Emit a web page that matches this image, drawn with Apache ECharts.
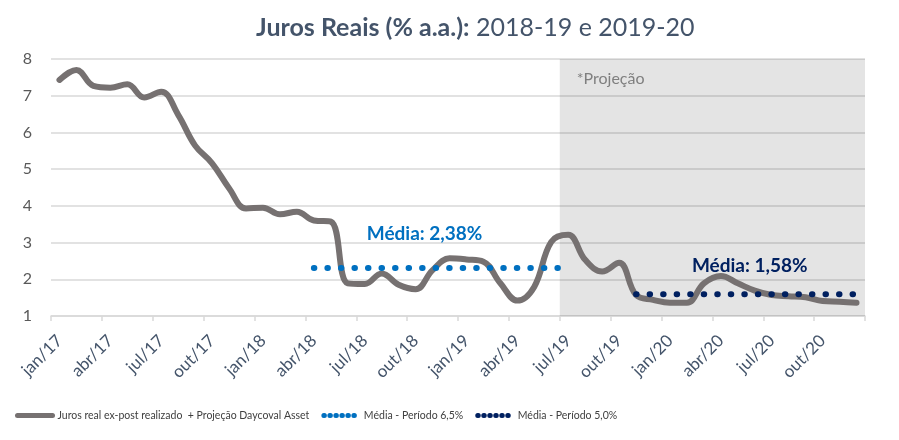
<!DOCTYPE html>
<html>
<head>
<meta charset="utf-8">
<script src="https://cdn.jsdelivr.net/npm/echarts@6/dist/echarts.min.js"></script>
<style>
html,body{margin:0;padding:0;background:#fff;}
#chart{width:899px;height:440px;}
</style>
</head>
<body>
<div id="chart"></div>
<script>
const categories = [
  'jan/17','fev/17','mar/17','abr/17','mai/17','jun/17','jul/17','ago/17','set/17','out/17','nov/17','dez/17',
  'jan/18','fev/18','mar/18','abr/18','mai/18','jun/18','jul/18','ago/18','set/18','out/18','nov/18','dez/18',
  'jan/19','fev/19','mar/19','abr/19','mai/19','jun/19','jul/19','ago/19','set/19','out/19','nov/19','dez/19',
  'jan/20','fev/20','mar/20','abr/20','mai/20','jun/20','jul/20','ago/20','set/20','out/20','nov/20','dez/20'
];
const jurosReais = [
  7.43, 7.70, 7.27, 7.22, 7.31, 6.95, 7.11, 6.48, 5.64, 5.16, 4.48, 3.93,
  3.95, 3.77, 3.84, 3.60, 3.57, 1.89, 1.87, 2.16, 1.85, 1.73, 2.25, 2.57,
  2.54, 2.48, 1.89, 1.42, 1.80, 3.02, 3.21, 2.53, 2.21, 2.45, 1.57, 1.44,
  1.36, 1.36, 1.89, 2.09, 1.89, 1.69, 1.57, 1.54, 1.51, 1.41, 1.39, 1.36
];
const media65 = [
  null, null, null, null, null, null, null, null, null, null, null, null,
  null, null, null, 2.31, 2.31, 2.31, 2.31, 2.31, 2.31, 2.31, 2.31, 2.31,
  2.31, 2.31, 2.31, 2.31, 2.31, 2.31, 2.31, null, null, null, null, null,
  null, null, null, null, null, null, null, null, null, null, null, null
];
const media50 = [
  null, null, null, null, null, null, null, null, null, null, null, null,
  null, null, null, null, null, null, null, null, null, null, null, null,
  null, null, null, null, null, null, null, null, null, null, 1.59, 1.59,
  1.59, 1.59, 1.59, 1.59, 1.59, 1.59, 1.59, 1.59, 1.59, 1.59, 1.59, 1.59
];
const yTicks = [1, 2, 3, 4, 5, 6, 7, 8];
const projStart = 30;   // jul/19 (category boundary)
const projEnd = 48.3;
const labelMedia65 = 'Média: 2,38%';
const labelMedia50 = 'Média: 1,58%';
const seriesNames = ['Juros real ex-post realizado  + Projeção Daycoval Asset', 'Média - Período 6,5%', 'Média - Período 5,0%'];

const chart = echarts.init(document.getElementById('chart'), null, {renderer: 'canvas'});
const dotDash = [0.5, 13.03];
chart.setOption({
  animation: false,
  backgroundColor: '#ffffff',
  title: {
    text: '{b|Juros Reais (% a.a.):}{r| 2018-19 e 2019-20}',
    left: 251, top: 10,
    textStyle: {
      rich: {
        b: {fontFamily: 'Lato', fontWeight: 'bold', fontSize: 25, color: '#44546A'},
        r: {fontFamily: 'Lato', fontWeight: 'normal', fontSize: 25, color: '#44546A'}
      }
    }
  },
  grid: {left: 51, right: 34, top: 59, bottom: 124, containLabel: false},
  legend: {
    bottom: 14, left: 10,
    itemWidth: 35, itemHeight: 8, itemGap: 12,
    data: [
      {name: seriesNames[0], itemStyle: {opacity: 0}, lineStyle: {width: 5, cap: 'round', type: 'solid'}},
      {name: seriesNames[1], itemStyle: {opacity: 0}, lineStyle: {width: 5, cap: 'round', type: [0.5, 5.5]}},
      {name: seriesNames[2], itemStyle: {opacity: 0}, lineStyle: {width: 5, cap: 'round', type: [0.5, 5.5]}}
    ],
    textStyle: {fontFamily: 'Lato', fontSize: 10.5, color: '#404040'}
  },
  xAxis: [{
    type: 'category',
    data: categories,
    boundaryGap: true,
    axisLine: {lineStyle: {color: '#d9d9d9', width: 1.5}},
    axisTick: {show: true, interval: 2, length: 5, lineStyle: {color: '#d9d9d9', width: 1.5}},
    axisLabel: {interval: 2, rotate: 45, margin: 22, fontFamily: 'Lato', fontSize: 17, color: '#44546A'},
    splitLine: {show: false}
  }, {
    type: 'value', min: 0, max: 48, show: false
  }],
  yAxis: {
    type: 'value', min: yTicks[0], max: yTicks[yTicks.length - 1], interval: 1,
    axisLine: {show: false}, axisTick: {show: false},
    axisLabel: {margin: 19, fontFamily: 'Lato', fontSize: 16, color: '#595959'},
    splitLine: {lineStyle: {color: '#d9d9d9', width: 1.5}}
  },
  series: [{
    name: 'proj', type: 'line', xAxisIndex: 1, data: [], silent: true,
    markArea: {
      silent: true,
      itemStyle: {color: 'rgba(0,0,0,0.105)'},
      label: {show: true, position: [17, 12], formatter: '*Projeção',
        fontFamily: 'Lato', fontSize: 16, color: '#7f7f7f'},
      data: [[{xAxis: projStart}, {xAxis: projEnd}]]
    }
  }, {
    name: seriesNames[0], type: 'line', data: jurosReais, smooth: 0.4,
    symbol: 'none', z: 3,
    lineStyle: {color: '#767171', width: 6, cap: 'round', join: 'round'},
    itemStyle: {color: '#767171'}
  }, {
    name: seriesNames[1], type: 'line', data: media65, symbol: 'none', z: 4,
    lineStyle: {color: '#0070C0', width: 6, type: dotDash, cap: 'round'},
    itemStyle: {color: '#0070C0'},
    markPoint: {
      symbol: 'circle', symbolSize: 0, silent: true,
      label: {show: true, position: 'top', distance: 25, offset: [-8, 0], formatter: labelMedia65,
        fontFamily: 'Lato', fontWeight: 'bold', fontSize: 19, color: '#0070C0'},
      data: [{coord: [categories[22], media65[22]]}]
    }
  }, {
    name: seriesNames[2], type: 'line', data: media50, symbol: 'none', z: 4,
    lineStyle: {color: '#002060', width: 6, type: dotDash, cap: 'round'},
    itemStyle: {color: '#002060'},
    markPoint: {
      symbol: 'circle', symbolSize: 0, silent: true,
      label: {show: true, position: 'top', distance: 19, offset: [-5, 0], formatter: labelMedia50,
        fontFamily: 'Lato', fontWeight: 'bold', fontSize: 19, color: '#002060'},
      data: [{coord: [categories[41], media50[41]]}]
    }
  }]
});
</script>
</body>
</html>
